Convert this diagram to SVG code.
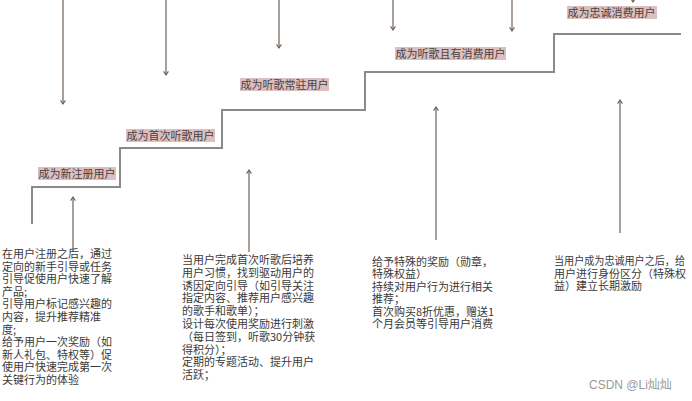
<svg xmlns="http://www.w3.org/2000/svg" width="692" height="401" viewBox="0 0 692 401">
<style>
.stair{fill:none;stroke:#8a8a8a;stroke-width:2}
.arr{fill:none;stroke:#6e5f55;stroke-width:1.2}
.lbg{fill:#dcc0c1}
.lbl{font-family:"Noto Sans CJK SC","Liberation Sans",sans-serif;font-size:11px;fill:#4a4040}
.txt{font-family:"Noto Sans CJK SC","Liberation Sans",sans-serif;font-size:11px;fill:#3a3a3a}
.wm{font-family:"Liberation Sans","Noto Sans CJK SC",sans-serif;font-size:12px;fill:#9a9a9a}
</style>
<defs>
<marker id="head" viewBox="0 0 10 10" refX="8" refY="5" markerWidth="6" markerHeight="6" orient="auto" markerUnits="userSpaceOnUse">
<path d="M2,1 L8,5 L2,9" fill="none" stroke="#6e5f55" stroke-width="1.8"/>
</marker>
</defs>
<g id="staircase">
<path class="stair" d="M32,224 V187 H120 V148 H222 V110 H365 V72 H554 V34 H681"/>
</g>
<g id="connectors">
<line class="arr" x1="63" y1="0" x2="63" y2="104" marker-end="url(#head)"/>
<line class="arr" x1="166" y1="0" x2="166" y2="75" marker-end="url(#head)"/>
<line class="arr" x1="279" y1="0" x2="279" y2="48" marker-end="url(#head)"/>
<line class="arr" x1="393" y1="0" x2="393" y2="30" marker-end="url(#head)"/>
<line class="arr" x1="512" y1="0" x2="512" y2="31" marker-end="url(#head)"/>
<line class="arr" x1="633" y1="-5" x2="633" y2="2" marker-end="url(#head)"/>
<line class="arr" x1="73" y1="252" x2="73" y2="197" marker-end="url(#head)"/>
<line class="arr" x1="249" y1="252" x2="249" y2="170" marker-end="url(#head)"/>
<line class="arr" x1="436" y1="240" x2="436" y2="107" marker-end="url(#head)"/>
<line class="arr" x1="620" y1="233" x2="620" y2="100" marker-end="url(#head)"/>
</g>
<g id="label-new">
<rect class="lbg" x="38" y="167" width="78" height="13"/>
<text class="lbl" x="38.5" y="177.5">成为新注册用户</text>
</g>
<g id="label-first">
<rect class="lbg" x="126" y="129" width="89" height="13"/>
<text class="lbl" x="126.5" y="139.5">成为首次听歌用户</text>
</g>
<g id="label-regular">
<rect class="lbg" x="240" y="78" width="89" height="13"/>
<text class="lbl" x="240.5" y="88.5">成为听歌常驻用户</text>
</g>
<g id="label-paying">
<rect class="lbg" x="395" y="47" width="111" height="13"/>
<text class="lbl" x="395.5" y="57.5">成为听歌且有消费用户</text>
</g>
<g id="label-loyal">
<rect class="lbg" x="567" y="6" width="90" height="13"/>
<text class="lbl" x="567.5" y="16.5">成为忠诚消费用户</text>
</g>
<g id="desc-new">
<text class="txt">
<tspan x="2" y="258">在用户注册之后，通过</tspan>
<tspan x="2" y="270.6">定向的新手引导或任务</tspan>
<tspan x="2" y="283.2">引导促使用户快速了解</tspan>
<tspan x="2" y="295.8">产品;</tspan>
<tspan x="2" y="308.4">引导用户标记感兴趣的</tspan>
<tspan x="2" y="321">内容，提升推荐精准</tspan>
<tspan x="2" y="333.6">度;</tspan>
<tspan x="2" y="346.2">给予用户一次奖励（如</tspan>
<tspan x="2" y="358.8">新人礼包、特权等）促</tspan>
<tspan x="2" y="371.4">使用户快速完成第一次</tspan>
<tspan x="2" y="384">关键行为的体验</tspan>
</text>
</g>
<g id="desc-first">
<text class="txt">
<tspan x="182" y="264">当用户完成首次听歌后培养</tspan>
<tspan x="182" y="276.8">用户习惯，找到驱动用户的</tspan>
<tspan x="182" y="289.6">诱因定向引导（如引导关注</tspan>
<tspan x="182" y="302.4">指定内容、推荐用户感兴趣</tspan>
<tspan x="182" y="315.2">的歌手和歌单）；</tspan>
<tspan x="182" y="328">设计每次使用奖励进行刺激</tspan>
<tspan x="182" y="340.8">（每日签到，听歌30分钟获</tspan>
<tspan x="182" y="353.6">得积分）；</tspan>
<tspan x="182" y="366.4">定期的专题活动、提升用户</tspan>
<tspan x="182" y="379.2">活跃；</tspan>
</text>
</g>
<g id="desc-paying">
<text class="txt">
<tspan x="372" y="266">给予特殊的奖励（勋章，</tspan>
<tspan x="372" y="278.4">特殊权益）</tspan>
<tspan x="372" y="290.8">持续对用户行为进行相关</tspan>
<tspan x="372" y="303.2">推荐；</tspan>
<tspan x="372" y="315.6">首次购买8折优惠，赠送1</tspan>
<tspan x="372" y="328">个月会员等引导用户消费</tspan>
</text>
</g>
<g id="desc-loyal">
<text class="txt">
<tspan x="554" y="265" textLength="131" lengthAdjust="spacingAndGlyphs">当用户成为忠诚用户之后，给</tspan>
<tspan x="554" y="277.6">用户进行身份区分（特殊权</tspan>
<tspan x="554" y="290.2">益）建立长期激励</tspan>
</text>
</g>
<text class="wm" x="589" y="389">CSDN @Li灿灿</text>
</svg>
